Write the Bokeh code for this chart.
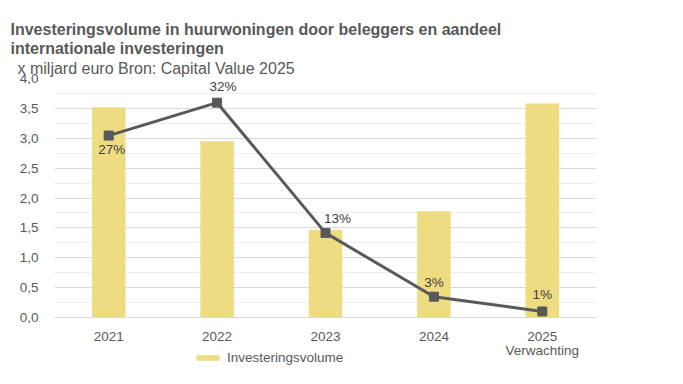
from bokeh.plotting import figure
from bokeh.models import (ColumnDataSource, Range1d, FactorRange, FixedTicker, CustomJSTickFormatter,
                          Title, Legend, LegendItem, CategoricalAxis)
from bokeh.core.properties import value
from bokeh.embed import file_html
from bokeh.resources import INLINE

years = ["2021", "2022", "2023", "2024", "2025"]
# second line of the category labels (blank entries kept unique for the factor range)
year_sublabels = [" ", "  ", "   ", "    ", "Verwachting"]
volume = [3.52, 2.95, 1.47, 1.78, 3.58]          # x miljard euro
intl_share = [27.1, 32.0, 12.6, 3.1, 0.9]        # % internationale investeringen
share_labels = ["27%", "32%", "13%", "3%", "1%"]
label_dy = [14, -16, -14, -14, -17]
label_dx = [3, 6, 12, 0, 0]
y_ticks = [0, 0.5, 1, 1.5, 2, 2.5, 3, 3.5, 4]
y_minor = [0.25, 0.75, 1.25, 1.75, 2.25, 2.75, 3.25, 3.75]

title1 = "Investeringsvolume in huurwoningen door beleggers en aandeel"
title2 = "internationale investeringen"
subtitle = "x miljard euro Bron: Capital Value 2025"
legend_label = "Investeringsvolume"

FONT = "Liberation Sans"
GREY = "#595959"
BAR = "#EEDC82"

# layout: frame runs from the top of the value area down to the bottom of the page,
# the value axis (0) sits 67 px above the frame bottom; axes are fixed at y = 0
FRAME_W, FRAME_H, BELOW_ZERO = 542, 306, 67
Y_MAX, PCT_MAX = 4.0, 35.6
y_min = -Y_MAX * BELOW_ZERO / (FRAME_H - BELOW_ZERO)

p = figure(frame_width=FRAME_W, frame_height=FRAME_H, x_range=years, y_range=Range1d(y_min, Y_MAX),
           output_backend="svg", toolbar_location=None,
           min_border_left=54, min_border_right=87, min_border_top=78, min_border_bottom=0)
p.outline_line_color = None
p.background_fill_color = "white"
p.border_fill_color = "white"
p.extra_y_ranges = {"pct": Range1d(y_min * PCT_MAX / Y_MAX, PCT_MAX)}
p.extra_x_ranges = {"sub": FactorRange(factors=year_sublabels)}

src = ColumnDataSource(dict(x=years, v=volume, s=intl_share, lab=share_labels,
                            dy=label_dy, dx=label_dx))

bars = p.vbar(x="x", top="v", bottom=0, width=0.31, source=src, fill_color=BAR, line_color=None)
p.line(x="x", y="s", source=src, y_range_name="pct", line_color=GREY, line_width=3)
p.scatter(x="x", y="s", source=src, y_range_name="pct", marker="square", size=9,
          fill_color=GREY, line_color=GREY)
p.text(x="x", y="s", text="lab", source=src, y_range_name="pct", y_offset="dy", x_offset="dx",
       text_align="center", text_baseline="middle", text_font=value(FONT),
       text_font_size="13.5px", text_color="#404040")

# axes
p.yaxis.ticker = FixedTicker(ticks=y_ticks, minor_ticks=y_minor)
p.yaxis.formatter = CustomJSTickFormatter(code="return tick.toFixed(1).replace('.', ',');")

xaxis2 = CategoricalAxis(x_range_name="sub")
p.add_layout(xaxis2, "below")
for ax in (p.xaxis[0], xaxis2, p.yaxis[0]):
    ax.major_label_text_font = FONT
    ax.major_label_text_font_size = "13.5px"
    ax.major_label_text_color = GREY
    ax.major_tick_line_color = None
    ax.minor_tick_line_color = None
p.yaxis.axis_line_color = None
p.yaxis.major_label_standoff = 10
p.xaxis[0].fixed_location = 0
p.xaxis[0].axis_line_color = "#d9d9d9"
p.xaxis[0].major_label_standoff = 8
xaxis2.fixed_location = 0
xaxis2.axis_line_color = None
xaxis2.major_label_standoff = 19

p.xgrid.grid_line_color = None
p.ygrid.grid_line_color = "#d9d9d9"
p.ygrid.minor_grid_line_color = "#eeeeee"

# titles: p.title is the outermost, added titles stack outward from the frame
p.title.text = title1
p.title.align = "left"
p.title.offset = -44
p.title.standoff = 0
p.title.text_font = FONT
p.title.text_font_size = "16px"
p.title.text_font_style = "bold"
p.title.text_color = GREY
p.add_layout(Title(text=subtitle, align="left", offset=-37, standoff=3, text_font=FONT,
                   text_font_size="16px", text_font_style="normal", text_color=GREY), "above")
p.add_layout(Title(text=title2, align="left", offset=-44, standoff=0, text_font=FONT,
                   text_font_size="16px", text_font_style="bold", text_color=GREY), "above")

# legend inside the (extended) frame, below the category labels
legend = Legend(items=[LegendItem(label=legend_label, renderers=[bars])],
                location=(139, 19), orientation="horizontal",
                glyph_width=29, glyph_height=7, label_height=7, label_standoff=5,
                padding=0, margin=0, border_line_color=None, background_fill_alpha=0,
                label_text_font=FONT, label_text_font_size="13.5px", label_text_color=GREY)
p.add_layout(legend, "center")

open("out.html", "w").write(file_html(p, INLINE))
